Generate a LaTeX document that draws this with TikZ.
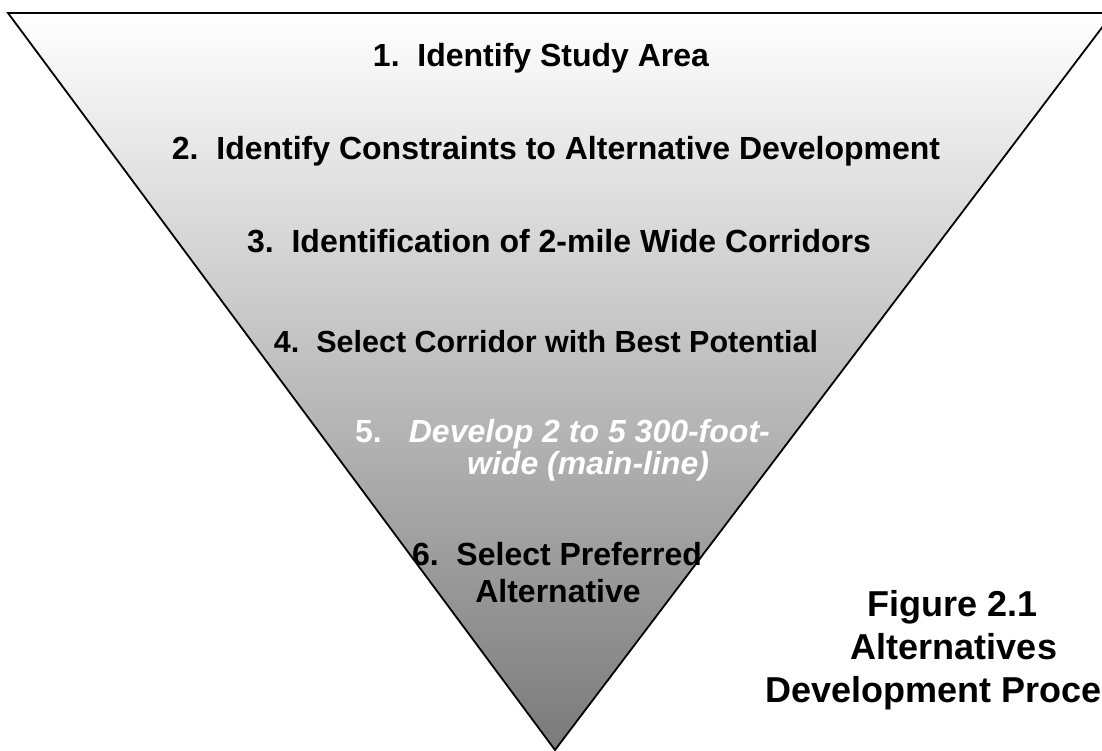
\documentclass[tikz,border=0pt]{standalone}
\usepackage{fontspec}
\setmainfont{Liberation Sans}
\definecolor{funnelmid}{gray}{0.784}
\definecolor{funnelbot}{gray}{0.478}
\begin{document}
\begin{tikzpicture}[x=1bp, y=-1bp,
  stage/.style={font=\fontsize{32bp}{36bp}\selectfont\bfseries, inner sep=0pt, anchor=base},
  figcap/.style={font=\fontsize{36bp}{43bp}\selectfont\bfseries, inner sep=0pt, anchor=base},
  funnel/.style={line width=1.8bp, line join=miter, draw=black}]
\useasboundingbox (0,0) rectangle (1102,751);
\clip (0,0) rectangle (1102,751);

% funnel outline
\coordinate (tl) at (8,13);
\coordinate (tr) at (1113,13);
\coordinate (apex) at (555,750);
\shade[top color=white, middle color=funnelmid, bottom color=funnelbot]
  (tl) -- (tr) -- (apex) -- cycle;
\draw[funnel] (tl) -- (tr) -- (apex) -- cycle;

% process stages
\node[stage] (s1) at (541,67) {1.~~Identify Study Area};
\node[stage] (s2) at (556,159) {2.~~Identify Constraints to Alternative Development};
\node[stage] (s3) at (559,252) {3.~~Identification of 2-mile Wide Corridors};
\node[stage, font=\fontsize{30.5bp}{34bp}\selectfont\bfseries] (s4) at (546,352)
  {4.~~Select Corridor with Best Potential};
\node[stage, anchor=base west, text=white] (s5a) at (355,442)
  {5.\hspace{27bp}\itshape Develop 2 to 5 300-foot-};
\node[stage, anchor=base west, text=white] (s5b) at (467,474)
  {\itshape wide (main-line)};
\node[stage] (s6a) at (557,565) {6.~~Select Preferred};
\node[stage] (s6b) at (558,602) {Alternative};

% figure caption
\node[figcap] (cap1) at (953,616) {Figure 2.1};
\node[figcap] (cap2) at (954,659) {Alternatives};
\node[figcap] (cap3) at (954,702) {Development Process};
\end{tikzpicture}
\end{document}
